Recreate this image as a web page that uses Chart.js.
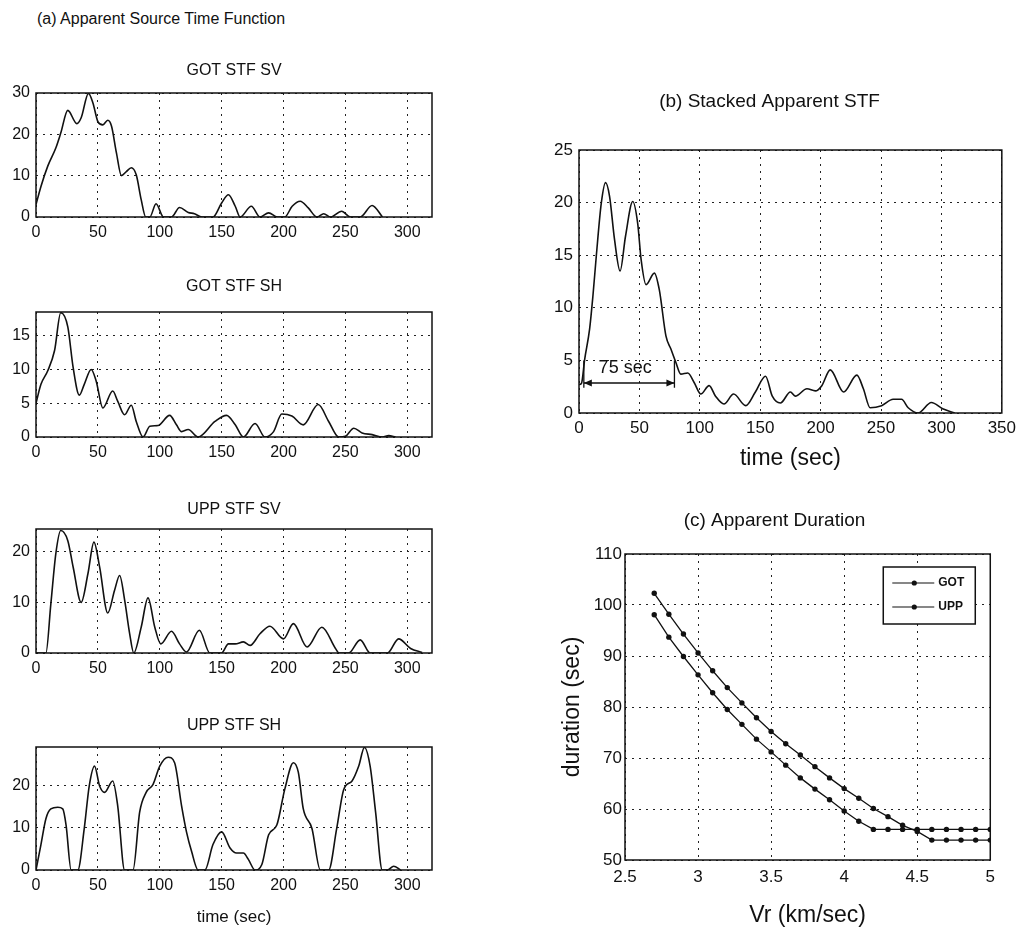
<!DOCTYPE html>
<html>
<head>
<meta charset="utf-8">
<title>Apparent source time functions</title>
<script src="https://cdn.jsdelivr.net/npm/chart.js@4.4.0/dist/chart.umd.min.js"></script>
<style>
  body { margin: 0; background: #fff; width: 1023px; height: 930px; position: relative; overflow: hidden;
         font-family: 'Liberation Sans', Arial, Helvetica, sans-serif; color: #111; }
  canvas { position: absolute; }
  #mainTitle { position: absolute; left: 37px; top: 10px; font-size: 16px; line-height: 18px; white-space: nowrap; }
</style>
</head>
<body>
<div id="mainTitle">(a) Apparent Source Time Function</div>
<canvas id="gotSv"></canvas>
<canvas id="gotSh"></canvas>
<canvas id="uppSv"></canvas>
<canvas id="uppSh"></canvas>
<canvas id="stacked"></canvas>
<canvas id="duration"></canvas>
<script>
// ---- data ----
const gotSvTime = [0, 4, 9.5, 16, 20, 25.7, 33, 36.5, 42.4, 46, 50, 54, 58, 61, 65, 69, 73, 77, 81, 85, 88.7, 92, 97, 103, 109.5, 116, 123, 128, 134, 143, 150, 155.5, 161, 165, 174, 181, 188, 195, 201, 207, 213.5, 220, 227, 232.5, 238, 247, 254, 262, 271.6, 280];
const gotSvVal  = [3, 7.4, 12.3, 16.7, 20.3, 25.8, 22.6, 24, 29.9, 27.6, 23.1, 22.3, 23.4, 22, 15.5, 10, 11, 11.9, 10.2, 4.2, 0, 0, 3.2, 0, 0, 2.3, 1.1, 0.8, 0, 0, 3.4, 5.4, 2.6, 0, 2.6, 0, 1, 0, 0, 2.6, 3.8, 2.2, 0, 0.8, 0, 1.4, 0, 0, 2.8, 0];

const gotShTime = [0, 4, 9.5, 15, 20, 25.7, 30, 35, 39, 44.6, 48.6, 54, 62, 66, 71.6, 77, 81, 86.5, 92, 98.6, 108, 113.5, 117.6, 123, 131, 144.6, 154, 161, 167.6, 177, 185, 192, 198.6, 206.8, 216, 228, 236.5, 244.6, 250, 256.8, 263.5, 271.6, 280, 285, 290.6];
const gotShVal  = [5, 7.8, 9.8, 12.8, 18.4, 16.3, 10.3, 6.2, 7.8, 10, 8.3, 4.3, 6.8, 5.3, 3.3, 4.7, 2.3, 0, 1.6, 1.7, 3.2, 1.8, 0.8, 1.1, 0, 2.3, 3.2, 1.8, 0, 2, 0, 0.8, 3.4, 3.1, 1.8, 4.8, 2.3, 0, 0.1, 1.3, 0.6, 0.35, 0, 0.2, 0];

const uppSvTime = [0, 8, 12, 16, 20, 25.7, 30, 36.5, 42, 46.8, 51.4, 58, 63.5, 67.6, 71.6, 75.7, 79, 85, 90.5, 96, 100.8, 109.5, 116, 121.6, 132, 140.5, 150, 155.5, 161, 167.6, 173, 181, 189, 200, 208, 219, 231, 242, 245, 252.7, 262, 270, 284, 293, 302.7, 312];
const uppSvVal  = [0, 0, 9.7, 19.6, 24.2, 22.2, 17, 10, 15.7, 21.9, 17, 7.9, 12.4, 15.3, 10.5, 3.8, 0, 5.1, 10.9, 5.1, 1.8, 4.3, 1.8, 0.2, 4.5, 0, 0, 1.8, 1.8, 2.2, 1.5, 3.8, 5.3, 2.8, 5.8, 1.2, 5.1, 0.9, 0, 0, 2.6, 0, 0, 2.8, 0.9, 0.1];

const uppShTime = [0, 4, 8, 12, 17.6, 21.6, 24.3, 28.4, 33.8, 39, 43, 47.3, 51.4, 55.4, 62, 66, 71.6, 78.4, 83.8, 89, 94.6, 100, 106.8, 112, 117.6, 121.6, 125.7, 131, 136.5, 143, 150, 156.8, 162, 167.6, 171.6, 177, 182.5, 188, 194.6, 201, 208, 212, 216, 223, 229.7, 236.5, 243, 248.7, 255.4, 260.8, 265.4, 270, 274.4, 279.8, 284, 289, 294.6];
const uppShVal  = [0, 6, 12.1, 14.4, 14.8, 14.4, 10.6, 0, 0, 9.8, 19.8, 24.5, 19.8, 18.3, 21, 15.2, 0, 0, 13.7, 18.3, 20.2, 24.5, 26.6, 25.3, 15.2, 9, 4.4, 0, 0, 6, 9, 5.2, 4, 4, 2.5, 0, 1.3, 8.3, 10.6, 19, 25.3, 23, 14.4, 9.8, 0, 0, 9.8, 19, 21, 24.5, 28.9, 24.5, 13.7, 0, 0, 0.9, 0];

const stackTime = [0, 2, 4.7, 8.8, 11.5, 14.3, 18.4, 22, 25.3, 29.4, 34, 38.5, 44.5, 48.6, 51.4, 55.5, 62.4, 66.5, 72, 76, 80.2, 84.3, 90, 95.3, 100.8, 107.7, 113, 120, 128, 138, 146, 154.4, 160, 166.7, 175, 179, 188.7, 195.6, 201, 208, 219, 230, 235.4, 241, 250.5, 260, 267, 272.5, 280.7, 291.7, 301, 311];
const stackVal  = [2.7, 2.8, 5.1, 8, 11.1, 14.9, 19.9, 21.9, 20.6, 16.5, 13.5, 16.8, 20.1, 18, 14.6, 12.2, 13.3, 11.7, 7.3, 6.1, 4.8, 3.7, 3.8, 2.9, 1.8, 2.6, 1.6, 0.85, 1.8, 0.7, 2, 3.5, 1.6, 0.95, 2, 1.6, 2.3, 2.1, 2.6, 4.1, 2, 3.6, 2.3, 0.5, 0.7, 1.3, 1.3, 0.5, 0, 1, 0.4, 0];

// "75 sec" duration marker on the stacked STF (data units)
const spanSec = [4, 79];
const spanLevel = 2.85;
const spanTick = [2.4, 5.0];
const spanLabel = '75 sec';

const vr = [2.7, 2.8, 2.9, 3.0, 3.1, 3.2, 3.3, 3.4, 3.5, 3.6, 3.7, 3.8, 3.9, 4.0, 4.1, 4.2, 4.3, 4.4, 4.5, 4.6, 4.7, 4.8, 4.9, 5.0];
const gotDur = [102.3, 98.2, 94.3, 90.6, 87.1, 83.8, 80.8, 77.9, 75.2, 72.8, 70.6, 68.3, 66.1, 64.0, 62.1, 60.1, 58.5, 56.8, 55.6, 53.9, 53.9, 53.9, 53.9, 53.9];
const uppDur = [98.1, 93.7, 89.9, 86.3, 82.8, 79.5, 76.6, 73.7, 71.2, 68.6, 66.1, 63.9, 61.8, 59.6, 57.6, 56.0, 56.0, 56.0, 56.0, 56.0, 56.0, 56.0, 56.0, 56.0];

// ---- setup ----
Chart.defaults.font.family = "'Liberation Sans', Arial, Helvetica, sans-serif";
Chart.defaults.color = '#111';

const INK = '#111';
const DASH = [2, 5];

function pts(xs, ys) {
  return xs.map((x, i) => ({ x: x, y: ys[i] }));
}

// plain number labels, "3" not "3.0"
const plainTick = v => String(Number(v.toFixed(2)));

// frame round the plot area, matlab style
const framePlugin = {
  id: 'frame',
  afterDatasetsDraw(chart) {
    const { ctx, chartArea: a } = chart;
    ctx.save();
    ctx.strokeStyle = INK;
    ctx.lineWidth = 1.5;
    ctx.strokeRect(a.left, a.top, a.right - a.left, a.bottom - a.top);
    ctx.restore();
  }
};

// double arrow with label on the stacked STF
const spanPlugin = {
  id: 'span',
  afterDatasetsDraw(chart) {
    const { ctx, scales: { x, y } } = chart;
    const x1 = x.getPixelForValue(spanSec[0]);
    const x2 = x.getPixelForValue(spanSec[1]);
    const yl = y.getPixelForValue(spanLevel);
    ctx.save();
    ctx.strokeStyle = INK;
    ctx.fillStyle = INK;
    ctx.lineWidth = 1.3;
    ctx.beginPath();
    [x1, x2].forEach(px => {
      ctx.moveTo(px, y.getPixelForValue(spanTick[0]));
      ctx.lineTo(px, y.getPixelForValue(spanTick[1]));
    });
    ctx.moveTo(x1, yl);
    ctx.lineTo(x2, yl);
    ctx.stroke();
    // arrow heads
    ctx.beginPath();
    ctx.moveTo(x1, yl); ctx.lineTo(x1 + 8, yl - 3.5); ctx.lineTo(x1 + 8, yl + 3.5); ctx.closePath();
    ctx.moveTo(x2, yl); ctx.lineTo(x2 - 8, yl - 3.5); ctx.lineTo(x2 - 8, yl + 3.5); ctx.closePath();
    ctx.fill();
    ctx.font = "18px 'Liberation Sans', Arial, sans-serif";
    ctx.textAlign = 'center';
    ctx.textBaseline = 'middle';
    ctx.fillText(spanLabel, (x1 + x2) / 2 - 4, y.getPixelForValue(4.3));
    ctx.restore();
  }
};

// boxed legend in the top right corner of the duration plot
const boxLegend = {
  id: 'boxLegend',
  afterDraw(chart) {
    const { ctx, chartArea: a } = chart;
    const w = 92, h = 57;
    const x0 = a.right - 15 - w, y0 = a.top + 13;
    ctx.save();
    ctx.fillStyle = '#fff';
    ctx.fillRect(x0, y0, w, h);
    ctx.strokeStyle = INK;
    ctx.lineWidth = 1.5;
    ctx.strokeRect(x0, y0, w, h);
    ctx.font = "bold 12px 'Liberation Sans', Arial, sans-serif";
    ctx.textBaseline = 'middle';
    chart.data.datasets.forEach((ds, i) => {
      const yy = y0 + 16 + i * 24;
      ctx.beginPath();
      ctx.lineWidth = 1.2;
      ctx.moveTo(x0 + 9, yy);
      ctx.lineTo(x0 + 51, yy);
      ctx.stroke();
      ctx.beginPath();
      ctx.fillStyle = INK;
      ctx.arc(x0 + 31, yy, 2.6, 0, Math.PI * 2);
      ctx.fill();
      ctx.fillText(ds.label, x0 + 55, yy);
    });
    ctx.restore();
  }
};

// size and place a canvas so that its plot area lands on the box g
function placeCanvas(id, g) {
  const lh = g.titleSize * 1.2;
  const top = Math.floor(g.titleY - lh / 2 - 4);
  const titleH = g.T - top;
  const c = document.getElementById(id);
  c.width = g.yW + (g.R - g.L) + g.rPad;
  c.height = titleH + (g.B - g.T) + g.xH;
  c.style.left = (g.L - g.yW) + 'px';
  c.style.top = top + 'px';
  return { top: 4, bottom: titleH - lh - 4 };
}

function makeChart(id, g, datasets, sc, extra) {
  const titlePad = placeCanvas(id, g);
  const grid = { color: '#222', lineWidth: 1, drawTicks: false };
  return new Chart(document.getElementById(id), {
    type: 'line',
    data: { datasets: datasets },
    options: {
      responsive: false,
      animation: false,
      layout: { padding: { right: g.rPad } },
      plugins: {
        legend: { display: false },
        tooltip: { enabled: false },
        title: {
          display: true,
          text: g.title,
          fullSize: g.fullTitle,
          color: INK,
          font: { size: g.titleSize, weight: 'normal' },
          padding: titlePad
        }
      },
      scales: {
        x: {
          type: 'linear',
          min: sc.xMin, max: sc.xMax,
          grid: grid,
          border: { display: false, dash: DASH },
          ticks: { stepSize: sc.xStep, includeBounds: false, padding: g.xPad, maxRotation: 0, autoSkip: false,
                   color: INK, font: { size: g.tickSize }, callback: plainTick },
          title: { display: !!g.xTitle, text: g.xTitle, color: INK, font: { size: g.axisSize },
                   padding: { top: 0, bottom: g.xTitlePad || 0 } },
          afterFit: s => { s.height = g.xH; }
        },
        y: {
          min: sc.yMin, max: sc.yMax,
          grid: grid,
          border: { display: false, dash: DASH },
          ticks: { stepSize: sc.yStep, includeBounds: false, padding: g.yPad, color: INK, font: { size: g.tickSize },
                   callback: plainTick },
          title: { display: !!g.yTitle, text: g.yTitle, color: INK, font: { size: g.axisSize },
                   padding: { top: g.yTitlePad || 0, bottom: 0 } },
          afterFit: s => { s.width = g.yW; }
        }
      }
    },
    plugins: [framePlugin].concat(extra || [])
  });
}

function trace(xs, ys) {
  return {
    data: pts(xs, ys),
    borderColor: INK,
    borderWidth: 1.6,
    pointRadius: 0,
    fill: false,
    cubicInterpolationMode: 'monotone'
  };
}

// ---- the four station panels ----
const leftBase = { L: 36, R: 432, yW: 36, rPad: 20, xH: 30, titleSize: 16, tickSize: 16,
                   xPad: 6, yPad: 6, fullTitle: false };
const stfScale = { xMin: 0, xMax: 320, xStep: 50, yMin: 0 };

makeChart('gotSv', Object.assign({}, leftBase, { title: 'GOT STF SV', titleY: 71, T: 93, B: 217 }),
  [trace(gotSvTime, gotSvVal)], Object.assign({}, stfScale, { yMax: 30, yStep: 10 }));

makeChart('gotSh', Object.assign({}, leftBase, { title: 'GOT STF SH', titleY: 287, T: 312, B: 437 }),
  [trace(gotShTime, gotShVal)], Object.assign({}, stfScale, { yMax: 18.5, yStep: 5 }));

makeChart('uppSv', Object.assign({}, leftBase, { title: 'UPP STF SV', titleY: 510, T: 529, B: 653 }),
  [trace(uppSvTime, uppSvVal)], Object.assign({}, stfScale, { yMax: 24.5, yStep: 10 }));

makeChart('uppSh', Object.assign({}, leftBase, { title: 'UPP STF SH', titleY: 726, T: 747, B: 870,
    xH: 59, xTitle: 'time (sec)', axisSize: 17, xTitlePad: 1 }),
  [trace(uppShTime, uppShVal)], Object.assign({}, stfScale, { yMax: 29, yStep: 10 }));

// ---- (b) stacked STF ----
makeChart('stacked', { title: '(b) Stacked Apparent STF', titleY: 102, titleSize: 19, fullTitle: true,
    L: 579, R: 1005, T: 150, B: 413, yW: 45, rPad: 16, xH: 61, tickSize: 17, xPad: 5, yPad: 6,
    xTitle: 'time (sec)', axisSize: 23, xTitlePad: 2 },
  [trace(stackTime, stackVal)],
  { xMin: 0, xMax: 350, xStep: 50, yMin: 0, yMax: 25, yStep: 5 }, [spanPlugin]);

// ---- (c) apparent duration ----
const durLine = { borderColor: INK, borderWidth: 1.3, pointRadius: 2.7, pointBackgroundColor: INK,
                  pointBorderWidth: 0, fill: false, tension: 0 };
makeChart('duration', { title: '(c) Apparent Duration', titleY: 521, titleSize: 19, fullTitle: true,
    L: 625, R: 992, T: 554, B: 860, yW: 68, rPad: 10, xH: 69, tickSize: 17, xPad: 7, yPad: 3,
    xTitle: 'Vr (km/sec)', yTitle: 'duration (sec)', axisSize: 23, xTitlePad: 0, yTitlePad: 2 },
  [Object.assign({ label: 'GOT', data: pts(vr, gotDur) }, durLine),
   Object.assign({ label: 'UPP', data: pts(vr, uppDur) }, durLine)],
  { xMin: 2.5, xMax: 5, xStep: 0.5, yMin: 50, yMax: 110, yStep: 10 }, [boxLegend]);
</script>
</body>
</html>
